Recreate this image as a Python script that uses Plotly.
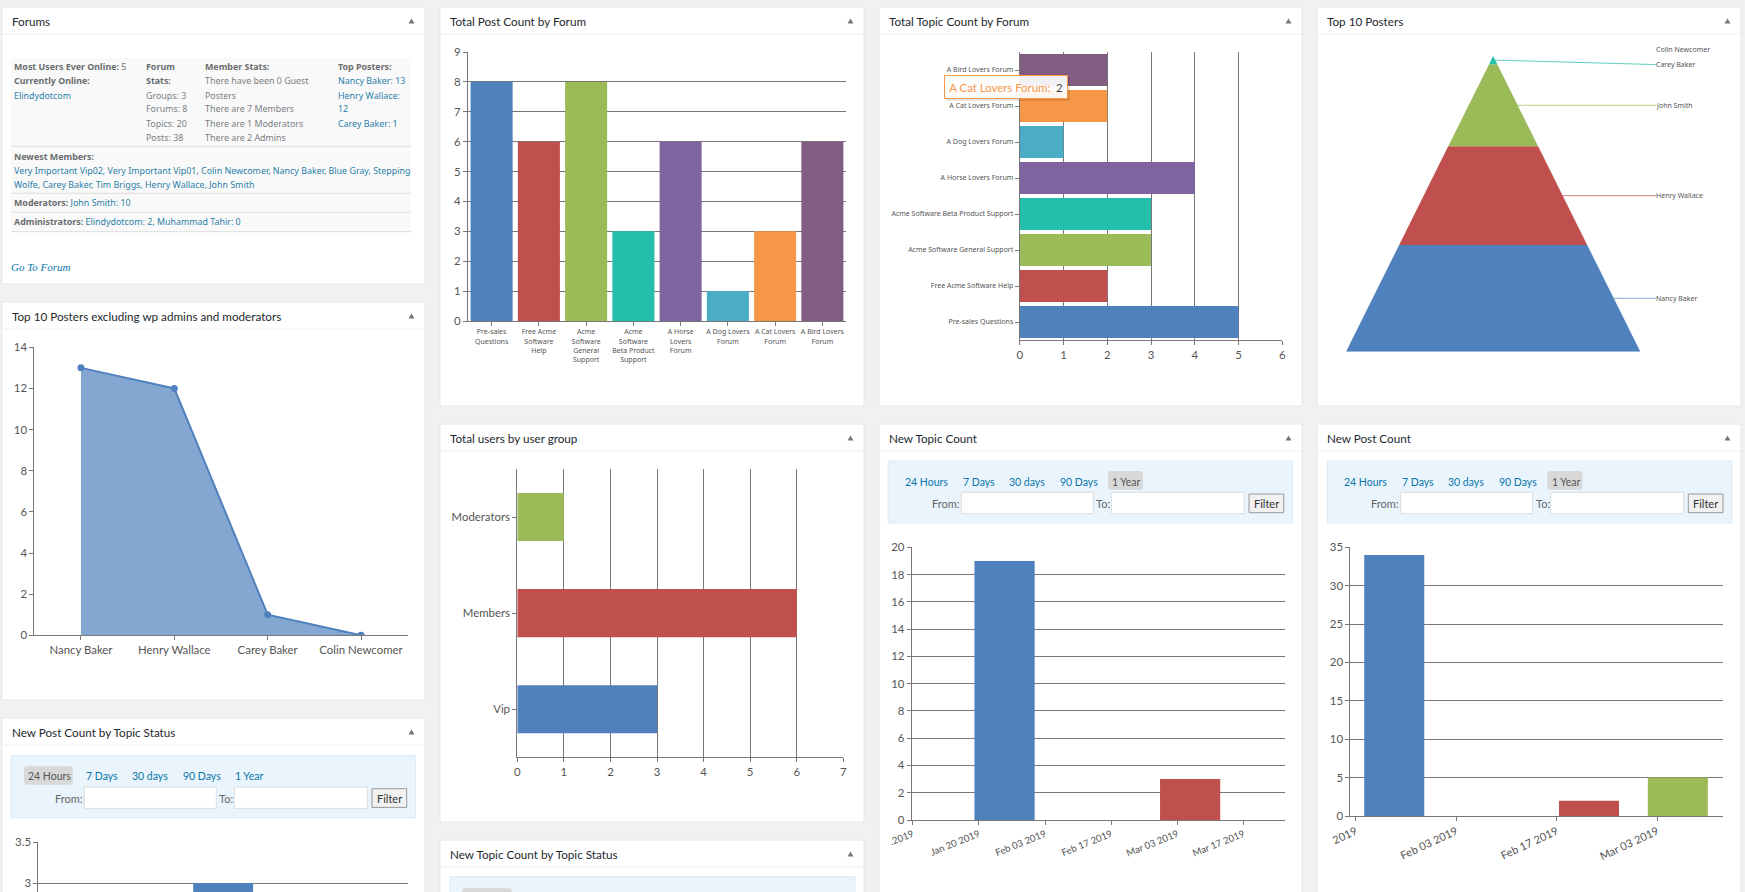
import plotly.graph_objects as go

W, H = 1745, 892

# ---------- data ----------
POST_FORUMS = ["Pre-sales<br>Questions", "Free Acme<br>Software<br>Help", "Acme<br>Software<br>General<br>Support",
               "Acme<br>Software<br>Beta Product<br>Support", "A Horse<br>Lovers<br>Forum", "A Dog Lovers<br>Forum",
               "A Cat Lovers<br>Forum", "A Bird Lovers<br>Forum"]
POST_COUNTS = [8, 6, 8, 3, 6, 1, 3, 6]
TOPIC_FORUMS = ["Pre-sales Questions", "Free Acme Software Help", "Acme Software General Support",
                "Acme Software Beta Product Support", "A Horse Lovers Forum", "A Dog Lovers Forum",
                "A Cat Lovers Forum", "A Bird Lovers Forum"]
TOPIC_COUNTS = [5, 2, 3, 3, 4, 1, 2, 2]
POSTERS = ["Nancy Baker", "Henry Wallace", "John Smith", "Carey Baker", "Colin Newcomer"]
POSTER_COUNTS = [13, 12, 10, 1, 0]
EXCL_POSTERS = ["Nancy Baker", "Henry Wallace", "Carey Baker", "Colin Newcomer"]
EXCL_COUNTS = [13, 12, 1, 0]
GROUPS = ["Vip", "Members", "Moderators"]
GROUP_COUNTS = [3, 6, 1]
NEW_TOPIC_DATES = ["2019-01-25 10:20", "2019-03-05 16:36"]
NEW_TOPIC_COUNTS = [19, 3]
NEW_TOPIC_TICKS = ["2019-01-06", "2019-01-20", "2019-02-03", "2019-02-17", "2019-03-03", "2019-03-17"]
NEW_TOPIC_TICKTEXT = [".2019", "Jan 20 2019", "Feb 03 2019", "Feb 17 2019", "Mar 03 2019", "Mar 17 2019"]
NEW_POST_DATES = ["2019-01-25 09:00", "2019-02-21 12:00", "2019-03-05 21:00"]
NEW_POST_COUNTS = [34, 2, 5]
NEW_POST_TICKS = ["2019-01-20", "2019-02-03", "2019-02-17", "2019-03-03"]
NEW_POST_TICKTEXT = ["2019", "Feb 03 2019", "Feb 17 2019", "Mar 03 2019"]
STATUS_VALUES = [3]

COLORS = ["#4f81bd", "#c0504d", "#9bbb59", "#23bfaa", "#8064a2", "#4bacc6", "#f79646", "#815d82"]

# ---------- helpers ----------
UI = "Lato"
SMALL = "Noto Sans"
INK = "#23282d"
AXIS = "#777777"
LINK = "#2a7fa8"
GREY = "#7b7f84"
BOLD = "#6a6d70"

def px(x):
    return x / W

def py(y):
    return 1 - y / H

shapes, notes = [], []
layout_axes = {}

def rect(x0, y0, x1, y1, fill, line=None, width=1):
    shapes.append(dict(type="rect", xref="paper", yref="paper", x0=px(x0), x1=px(x1), y0=py(y1), y1=py(y0),
                       fillcolor=fill, line=dict(color=line or fill, width=width if line else 0), layer="below"))

def pill(x0, y0, x1, y1, fill, r=3):
    p = (f"M {px(x0+r)} {py(y0)} L {px(x1-r)} {py(y0)} Q {px(x1)} {py(y0)} {px(x1)} {py(y0+r)} "
         f"L {px(x1)} {py(y1-r)} Q {px(x1)} {py(y1)} {px(x1-r)} {py(y1)} L {px(x0+r)} {py(y1)} "
         f"Q {px(x0)} {py(y1)} {px(x0)} {py(y1-r)} L {px(x0)} {py(y0+r)} Q {px(x0)} {py(y0)} {px(x0+r)} {py(y0)} Z")
    shapes.append(dict(type="path", xref="paper", yref="paper", path=p, fillcolor=fill, line=dict(width=0), layer="below"))

def hline(x0, x1, y, color="#dddddd"):
    shapes.append(dict(type="line", xref="paper", yref="paper", x0=px(x0), x1=px(x1), y0=py(y), y1=py(y),
                       line=dict(color=color, width=1), layer="below"))

def txt(x, y, s, size=12, color=GREY, family=UI, anchor="left"):
    notes.append(dict(xref="paper", yref="paper", x=px(x), y=py(y), text=s, showarrow=False, xanchor=anchor,
                      yanchor="middle", borderpad=0, borderwidth=0, font=dict(size=size, color=color, family=family)))

def panel(x0, y0, x1, y1, title):
    rect(x0, y0, x1, y1, "#ffffff", "#e6e6e6")
    hline(x0, x1, y0 + 27, "#eeeeee")
    txt(x0 + 9.7, y0 + 14, title, size=11.7, color=INK)
    cx, cy = x1 - 13.5, y0 + 14
    shapes.append(dict(type="path", xref="paper", yref="paper",
                       path=f"M {px(cx-3)} {py(cy+2.5)} L {px(cx+3)} {py(cy+2.5)} L {px(cx)} {py(cy-2.5)} Z",
                       fillcolor="#72777c", line=dict(width=0), layer="below"))

def filter_box(x, y, active):
    rect(x, y, x + 404.5, y + 62, "#e9f4fd", "#dbeaf5")
    items = [("24 Hours", 17), ("7 Days", 74.5), ("30 days", 121), ("90 Days", 171.7), ("1 Year", 224.3)]
    if active == 0:
        pill(x + 13, y + 10.5, x + 61.7, y + 29, "#d8d8d8")
    else:
        pill(x + 220, y + 10, x + 255, y + 28.7, "#d8d8d8")
    for i, (label, dx) in enumerate(items):
        txt(x + dx, y + 20.5, label, size=10.5, color="#555555" if i == active else "#0a76a8")
    txt(x + 71.7, y + 42.5, "From:", size=11, color="#666666", anchor="right")
    rect(x + 73.3, y + 31.3, x + 205.3, y + 52.7, "#ffffff", "#dddddd")
    txt(x + 222.3, y + 42.5, "To:", size=11, color="#666666", anchor="right")
    rect(x + 223.3, y + 31.3, x + 356.3, y + 52.7, "#ffffff", "#dddddd")
    rect(x + 361, y + 33, x + 395.7, y + 51.7, "#f1f1f1", "#999999")
    txt(x + 378.3, y + 42.5, "Filter", size=11, color="#333333", anchor="center")

def axes(n, x0, x1, y_top, y_bot, xa, ya):
    s = "" if n == 1 else str(n)
    xa = dict(domain=[px(x0), px(x1)], anchor="y" + s, automargin=False, **xa)
    ya = dict(domain=[py(y_bot), py(y_top)], anchor="x" + s, automargin=False, **ya)
    layout_axes["xaxis" + s] = xa
    layout_axes["yaxis" + s] = ya
    return ("x" + s, "y" + s)

LINE = dict(showline=True, linecolor=AXIS, linewidth=1, zeroline=False, ticks="outside", ticklen=4, tickcolor=AXIS, tickwidth=1)
TICKFONT = dict(size=11.4, color="#555555", family=UI)
SMALLFONT = dict(size=7.0, color="#555555", family=SMALL)
GRID = dict(showgrid=True, gridcolor=AXIS, gridwidth=1)
NOGRID = dict(showgrid=False)

# ---------- panels ----------
panel(2, 7, 425, 284, "Forums")
panel(440, 7, 864, 406, "Total Post Count by Forum")
panel(879, 7, 1302, 406, "Total Topic Count by Forum")
panel(1317, 7, 1741, 406, "Top 10 Posters")
panel(2, 302, 425, 700, "Top 10 Posters excluding wp admins and moderators")
panel(2, 718, 425, 920, "New Post Count by Topic Status")
panel(440, 424, 864, 822, "Total users by user group")
panel(440, 840, 864, 920, "New Topic Count by Topic Status")
panel(879, 424, 1302, 920, "New Topic Count")
panel(1317, 424, 1741, 920, "New Post Count")

filter_box(888, 461, 4)
filter_box(1327.3, 461, 4)
filter_box(11, 755.7, 0)
rect(450, 876.7, 855, 920, "#e9f4fd", "#dbeaf5")
pill(462, 888.3, 511.7, 920, "#d8d8d8")

# ---------- forums widget ----------
rect(11, 58.3, 411, 231.7, "#f9f9f9")
for yy in (146.3, 193.3, 212.3, 231.7):
    hline(11, 411, yy)
FS = 8.9
FF = "Noto Sans"
def bold(s):
    return f"<b>{s}</b>"
def forum(x, y, s, color=GREY):
    txt(x, y, s, size=FS, color=color, family=FF)

forum(13.7, 67, bold("Most Users Ever Online:") + " 5", BOLD)
forum(13.7, 81, bold("Currently Online:"), BOLD)
forum(13.7, 95, "Elindydotcom", LINK)
forum(145.7, 67, bold("Forum"), BOLD)
forum(145.7, 81, bold("Stats:"), BOLD)
for yy, s in zip((95, 109, 123, 137), ("Groups: 3", "Forums: 8", "Topics: 20", "Posts: 38")):
    forum(145.7, yy, s)
forum(204.7, 67, bold("Member Stats:"), BOLD)
for yy, s in zip((81, 95, 109, 123, 137), ("There have been 0 Guest", "Posters", "There are 7 Members",
                                           "There are 1 Moderators", "There are 2 Admins")):
    forum(204.7, yy, s)
forum(337.7, 67, bold("Top Posters:"), BOLD)
for yy, s in zip((81, 95, 109, 123), ("Nancy Baker: 13", "Henry Wallace:", "12", "Carey Baker: 1")):
    forum(337.7, yy, s, LINK)
forum(13.7, 156, bold("Newest Members:"), BOLD)
forum(13.7, 170, "Very Important Vip02, Very Important Vip01, Colin Newcomer, Nancy Baker, Blue Gray, Stepping", LINK)
forum(13.7, 184, "Wolfe, Carey Baker, Tim Briggs, Henry Wallace, John Smith", LINK)
forum(13.7, 203, bold("Moderators:") + f' <span style="color:{LINK}">John Smith: 10</span>', BOLD)
forum(13.7, 222, bold("Administrators:") + f' <span style="color:{LINK}">Elindydotcom: 2, Muhammad Tahir: 0</span>', BOLD)
txt(11.3, 266.7, "<i>Go To Forum</i>", size=11, color="#0a76a8", family="Liberation Serif")

# ---------- charts ----------
traces = []

# total post count
xa, ya = axes(1, 468, 846, 52, 321,
              dict(type="category", range=[-0.5, 7.5], tickmode="array", tickvals=POST_FORUMS, ticktext=POST_FORUMS,
                   tickangle=0, tickfont=SMALLFONT, **LINE, **NOGRID),
              dict(range=[0, 9], dtick=1, tickfont=TICKFONT, **LINE, **GRID))
traces.append(go.Bar(x=POST_FORUMS, y=POST_COUNTS, marker=dict(color=COLORS, line=dict(width=0)), xaxis=xa, yaxis=ya, width=0.89))

# total topic count
xa, ya = axes(2, 1019.7, 1282.3, 52, 340,
              dict(range=[0, 6], dtick=1, tickfont=TICKFONT, **LINE, **GRID),
              dict(type="category", range=[-0.5, 7.5], tickfont=SMALLFONT, **LINE, **NOGRID))
traces.append(go.Bar(y=TOPIC_FORUMS, x=TOPIC_COUNTS, orientation="h", marker=dict(color=COLORS, line=dict(width=0)),
                     xaxis=xa, yaxis=ya, width=0.89))

# pyramid
total = sum(POSTER_COUNTS)
LABEL_X = 20
def half(v):
    return (total - v) / 2
xa, ya = axes(3, 1346, 1656.7, 56, 351.7,
              dict(range=[-total / 2, LABEL_X], visible=False),
              dict(range=[0, total], visible=False))
cum = 0
for i, (name, v) in enumerate(zip(POSTERS, POSTER_COUNTS)):
    lo, hi = cum, cum + v
    mid = (lo + hi) / 2
    if v > 0:
        traces.append(go.Scatter(x=[-half(lo), half(lo), half(hi), -half(hi)], y=[lo, lo, hi, hi], fill="toself",
                                 fillcolor=COLORS[i], mode="none", name=name, xaxis=xa, yaxis=ya))
        end = mid - 0.55 if v == 1 else mid
        traces.append(go.Scatter(x=[half(mid), LABEL_X], y=[mid, end], mode="lines", opacity=0.7,
                                 line=dict(color=COLORS[i], width=1), xaxis=xa, yaxis=ya, hoverinfo="skip"))
    shift = {3: -4, 4: 6}.get(i, 0)
    notes.append(dict(xref=xa, yref=ya, x=LABEL_X, y=mid, text=name, showarrow=False, xanchor="left", yanchor="middle",
                      yshift=shift, xshift=-1.5, borderpad=0, font=SMALLFONT))
    cum = hi

# area chart
xa, ya = axes(4, 34.3, 407.7, 347.3, 635.3,
              dict(type="category", range=[-0.5, 3.5], tickfont=TICKFONT, **LINE, **NOGRID),
              dict(range=[0, 14], dtick=2, tickfont=TICKFONT, **LINE, **NOGRID))
traces.append(go.Scatter(x=EXCL_POSTERS, y=EXCL_COUNTS, mode="lines+markers", fill="tozeroy",
                         fillcolor="rgba(79,129,189,0.7)", line=dict(color=COLORS[0], width=2),
                         marker=dict(color=COLORS[0], size=7), xaxis=xa, yaxis=ya))

# users by group
xa, ya = axes(5, 517.3, 843.3, 469, 757.3,
              dict(range=[0, 7], dtick=1, tickfont=TICKFONT, **LINE, **GRID),
              dict(type="category", range=[-0.5, 2.5], tickfont=TICKFONT, **LINE, **NOGRID))
traces.append(go.Bar(y=GROUPS, x=GROUP_COUNTS, orientation="h", marker=dict(color=COLORS[:3], line=dict(width=0)),
                     width=0.5, xaxis=xa, yaxis=ya))

# new topic count
DAY = 86400000
xa, ya = axes(6, 911.7, 1285, 547.3, 820,
              dict(type="date", range=["2019-01-05 19:00", "2019-03-25 18:15"], tickmode="array", tickvals=NEW_TOPIC_TICKS,
                   ticktext=NEW_TOPIC_TICKTEXT, tickangle=-22, tickfont=dict(TICKFONT, size=9.6), **LINE, **NOGRID),
              dict(range=[0, 20], dtick=2, tickfont=TICKFONT, **LINE, **GRID))
traces.append(go.Bar(x=NEW_TOPIC_DATES, y=NEW_TOPIC_COUNTS, width=12.73 * DAY, marker=dict(color=COLORS[:2], line=dict(width=0)),
                     xaxis=xa, yaxis=ya))

# new post count
xa, ya = axes(7, 1350.3, 1723, 547.3, 816,
              dict(type="date", range=["2019-01-19 06:00", "2019-03-12 04:00"], tickmode="array", tickvals=NEW_POST_TICKS,
                   ticktext=NEW_POST_TICKTEXT, tickangle=-25, tickfont=dict(TICKFONT, size=11), **LINE, **NOGRID),
              dict(range=[0, 35], dtick=5, tickfont=TICKFONT, **LINE, **GRID))
traces.append(go.Bar(x=NEW_POST_DATES, y=NEW_POST_COUNTS, width=8.36 * DAY, marker=dict(color=COLORS[:3], line=dict(width=0)),
                     xaxis=xa, yaxis=ya))

# new post count by topic status (cut by the page edge)
xa, ya = axes(8, 38.3, 408, 842.3, 892,
              dict(range=[0, 1], visible=False),
              dict(range=[2.89, 3.5], tickvals=[3, 3.5], ticktext=["3", "3.5"], tickfont=TICKFONT, **LINE, **GRID))
traces.append(go.Bar(x=[0.5], y=STATUS_VALUES, width=0.162, marker=dict(color=COLORS[0], line=dict(width=0)), xaxis=xa, yaxis=ya))

# tooltip
shapes.append(dict(type="rect", xref="paper", yref="paper", x0=px(946), x1=px(1070), y0=py(101), y1=py(77),
                   fillcolor="rgba(0,0,0,0.10)", line=dict(width=0), layer="above"))
notes.append(dict(xref="paper", yref="paper", x=px(1005.8), y=py(86.8), xanchor="center", yanchor="middle", showarrow=False,
                  width=122, height=22, borderpad=0,
                  text=f'<span style="color:{COLORS[6]}">A Cat Lovers Forum:</span>  <span style="color:#444444">2</span>',
                  bgcolor="rgba(255,255,255,0.92)", bordercolor=COLORS[6], borderwidth=1, font=dict(size=11.4, family=UI)))

fig = go.Figure(traces)
fig.update_layout(width=W, height=H, margin=dict(l=0, r=0, t=0, b=0, pad=0, autoexpand=False), paper_bgcolor="#f1f1f1",
                  plot_bgcolor="rgba(0,0,0,0)", showlegend=False, shapes=shapes, annotations=notes,
                  hoverlabel=dict(font_family=UI), **layout_axes)
fig.write_html("out.html", config=dict(displayModeBar=False), default_width=f"{W}px", default_height=f"{H}px",
               post_script="document.body.style.margin='0';document.documentElement.style.overflow='hidden';")
